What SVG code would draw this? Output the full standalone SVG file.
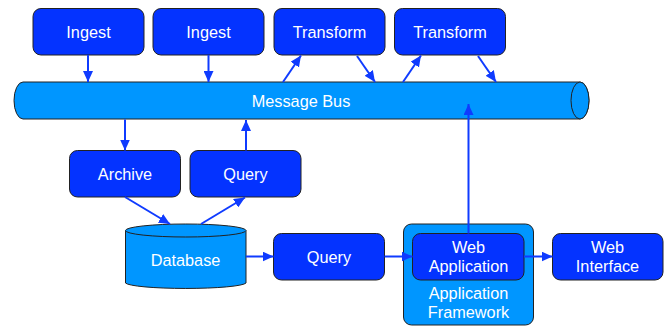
<svg xmlns="http://www.w3.org/2000/svg" width="665" height="326" viewBox="0 0 665 326">
<style>
.node{fill:#0433FF;stroke:#222;stroke-width:1}
.light{fill:#0096FF;stroke:#222;stroke-width:1}
.t{font-family:"Liberation Sans",Arial,sans-serif;font-size:16.3px;fill:#fff;text-anchor:middle}
.c{stroke:#0F3BFF;stroke-width:2;fill:none;marker-end:url(#ah)}
</style>
<defs>
<marker id="ah" markerUnits="userSpaceOnUse" markerWidth="12" markerHeight="10" refX="11" refY="5" orient="auto">
<path d="M0,0 L11,5 L0,10 z" fill="#0F3BFF"/>
</marker>
</defs>
<g id="bus">
<path class="light" d="M23,82 H580 A9,18.5 0 0 1 580,119 H23 A9,18.5 0 0 1 23,82 Z"/>
<ellipse class="light" cx="580" cy="100.5" rx="9" ry="18.5"/>
<text class="t" x="301" y="106.5">Message Bus</text>
</g>
<g id="ingest1"><rect class="node" x="33" y="8.5" width="111" height="46.5" rx="8"/><text class="t" x="88.5" y="38">Ingest</text></g>
<g id="ingest2"><rect class="node" x="153" y="8.5" width="111" height="46.5" rx="8"/><text class="t" x="208.5" y="38">Ingest</text></g>
<g id="transform1"><rect class="node" x="274" y="8.5" width="111" height="46.5" rx="8"/><text class="t" x="329.5" y="38">Transform</text></g>
<g id="transform2"><rect class="node" x="394.5" y="8.5" width="111" height="46.5" rx="8"/><text class="t" x="450" y="38">Transform</text></g>
<g id="archive"><rect class="node" x="69.5" y="150.5" width="111" height="46.5" rx="8"/><text class="t" x="125" y="180">Archive</text></g>
<g id="query1"><rect class="node" x="190" y="150.5" width="111" height="46.5" rx="8"/><text class="t" x="245.5" y="180">Query</text></g>
<g id="database">
<path class="light" d="M125.5,230.5 V283 A60.5,6 0 0 0 246,283 V230.5"/>
<ellipse class="light" cx="185.75" cy="230.5" rx="60.25" ry="6.5"/>
<text class="t" x="185.5" y="266">Database</text>
</g>
<g id="query2"><rect class="node" x="273.5" y="233.5" width="111" height="46.5" rx="8"/><text class="t" x="329" y="262.5">Query</text></g>
<g id="framework">
<rect class="light" x="403.5" y="224" width="130" height="101" rx="8"/>
<text class="t" x="468.5" y="298.5">Application</text>
<text class="t" x="468.5" y="318">Framework</text>
</g>
<g id="webapp"><rect class="node" x="412.5" y="233.5" width="111.5" height="46.5" rx="8"/><text class="t" x="468.5" y="252.5">Web</text><text class="t" x="468.5" y="271.5">Application</text></g>
<g id="webinterface"><rect class="node" x="552.5" y="233.5" width="110.5" height="46.5" rx="8"/><text class="t" x="607.5" y="252.5">Web</text><text class="t" x="607.5" y="271.5">Interface</text></g>
<g id="connectors">
<line class="c" x1="88" y1="55" x2="88" y2="82"/>
<line class="c" x1="208.5" y1="55" x2="208.5" y2="82"/>
<line class="c" x1="283" y1="82" x2="301" y2="55.5"/>
<line class="c" x1="357" y1="56" x2="375" y2="82"/>
<line class="c" x1="403" y1="82" x2="421" y2="55.5"/>
<line class="c" x1="478" y1="56" x2="496" y2="82"/>
<line class="c" x1="125" y1="119.5" x2="125" y2="150.5"/>
<line class="c" x1="246" y1="150.5" x2="246" y2="120"/>
<line class="c" x1="125" y1="197" x2="170" y2="224"/>
<line class="c" x1="201" y1="224" x2="245" y2="197.5"/>
<line class="c" x1="246" y1="256.5" x2="273.5" y2="256.5"/>
<line class="c" x1="384.5" y1="256.5" x2="412.5" y2="256.5"/>
<line class="c" x1="524" y1="256.5" x2="552.5" y2="256.5"/>
<line class="c" x1="468.5" y1="233.5" x2="468.5" y2="104"/>
</g>
</svg>
